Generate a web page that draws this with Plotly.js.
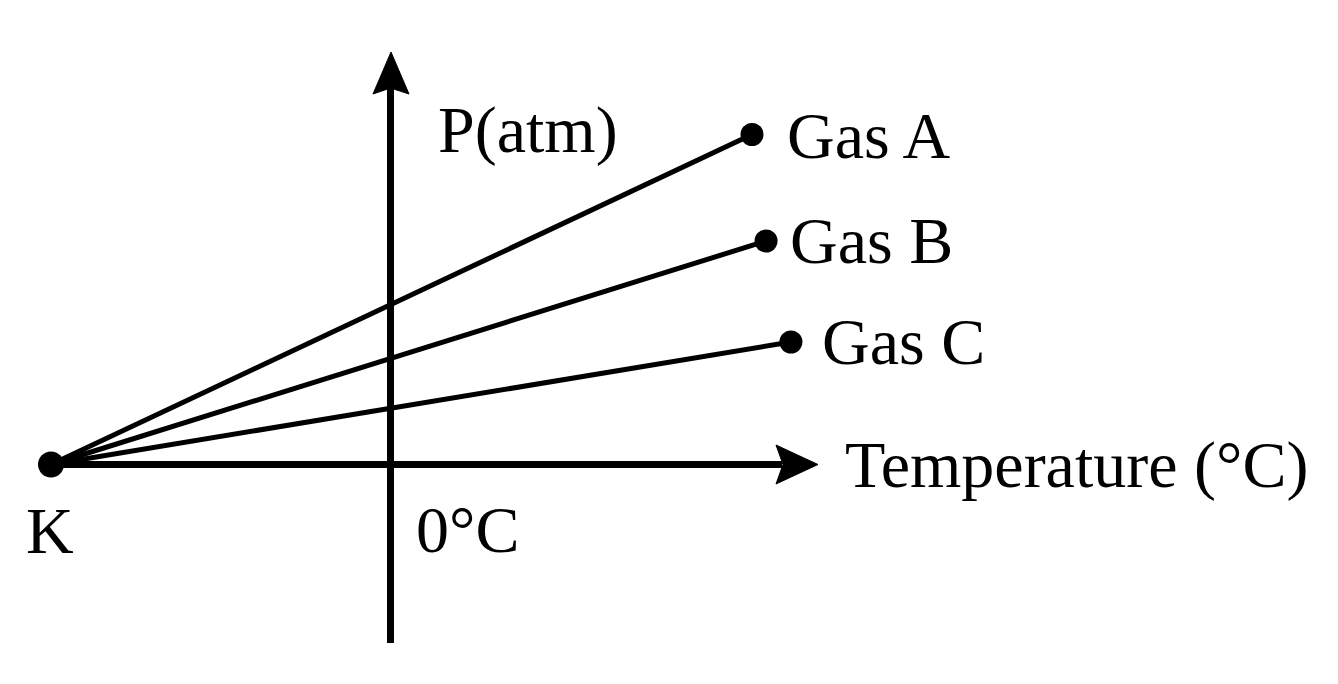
<!DOCTYPE html>
<html>
<head>
<meta charset="utf-8">
<script src="https://cdn.plot.ly/plotly-3.0.1.min.js"></script>
<style>html,body{margin:0;padding:0;background:#fff;}#chart{width:1338px;height:684px;}</style>
</head>
<body>
<div id="chart"></div>
<script>
// Data
var gasNames = ["Gas A", "Gas B", "Gas C"];
var absoluteZero = -273;          // °C, point K
var endTemps = [290.7, 302, 322]; // °C at line ends
var endPressures = [3.3, 2.235, 1.225]; // atm (relative)

var W = 1338, H = 684;
// axis ranges chosen so the diagram fills the page
var xr = [-314.0, 761.9], yr = [-2.195, 4.645];
function px2x(p){ return xr[0] + p/W*(xr[1]-xr[0]); }
function py2y(p){ return yr[1] - p/H*(yr[1]-yr[0]); }

var traces = [];
gasNames.forEach(function(n, i){
  traces.push({
    x: [absoluteZero, endTemps[i]],
    y: [0, endPressures[i]],
    mode: 'lines',
    line: {color: '#000', width: 5},
    hoverinfo: 'skip', showlegend: false
  });
});
traces.push({
  x: endTemps, y: endPressures, mode: 'markers',
  marker: {color: '#000', size: 23, opacity: 1, line: {width: 0}},
  hoverinfo: 'skip', showlegend: false
});
traces.push({
  x: [absoluteZero], y: [0], mode: 'markers',
  marker: {color: '#000', size: 26, opacity: 1, line: {width: 0}},
  hoverinfo: 'skip', showlegend: false
});

var font = {family: 'Liberation Serif, Times New Roman, serif', size: 66, color: '#000'};
function ann(text, px, py, xanchor){
  return {text: text, xref: 'paper', yref: 'paper', x: px/W, y: 1 - py/H,
    xanchor: xanchor || 'left', yanchor: 'middle', showarrow: false, font: font};
}

var shapes = [
  // x axis
  {type: 'line', x0: absoluteZero, y0: 0, x1: px2x(782), y1: 0, line: {color: '#000', width: 7}},
  // y axis
  {type: 'line', x0: 0, y0: py2y(643), x1: 0, y1: py2y(88), line: {color: '#000', width: 7}},
  // x arrowhead
  {type: 'path', path: 'M' + px2x(818) + ',' + py2y(464.5) + ' L' + px2x(776) + ',' + py2y(445) +
     ' L' + px2x(783) + ',' + py2y(464.5) + ' L' + px2x(776) + ',' + py2y(484) + ' Z',
   fillcolor: '#000', line: {color: '#000', width: 1}},
  // y arrowhead
  {type: 'path', path: 'M' + px2x(391) + ',' + py2y(52) + ' L' + px2x(373) + ',' + py2y(94) +
     ' L' + px2x(390.5) + ',' + py2y(88) + ' L' + px2x(409) + ',' + py2y(94) + ' Z',
   fillcolor: '#000', line: {color: '#000', width: 1}}
];

var layout = {
  width: W, height: H,
  margin: {l: 0, r: 0, t: 0, b: 0},
  paper_bgcolor: '#fff', plot_bgcolor: '#fff',
  xaxis: {range: xr, visible: false, fixedrange: true},
  yaxis: {range: yr, visible: false, fixedrange: true},
  shapes: shapes,
  annotations: [
    ann('P(atm)', 436, 130),
    ann('Temperature (°C)', 843, 465),
    ann('K', 50, 530, 'center'),
    ann('0°C', 414, 529),
    ann(gasNames[0], 785, 135),
    ann(gasNames[1], 788, 240),
    ann(gasNames[2], 820, 341)
  ]
};

Plotly.newPlot('chart', traces, layout, {displayModeBar: false, staticPlot: true});
</script>
</body>
</html>
